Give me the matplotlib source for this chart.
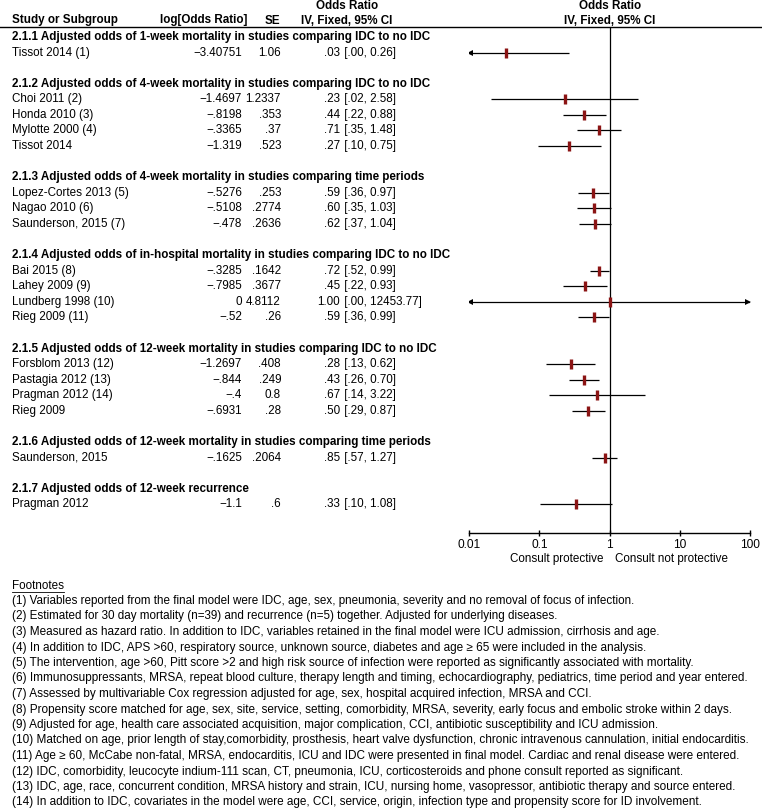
import numpy as np
import matplotlib
matplotlib.use('Agg')
import matplotlib.pyplot as plt
from matplotlib.lines import Line2D

# ============================================================
# DATA
# ============================================================
subgroups = [
    '2.1.1 Adjusted odds of 1-week mortality in studies comparing IDC to no IDC',
    '2.1.2 Adjusted odds of 4-week mortality in studies comparing IDC to no IDC',
    '2.1.3 Adjusted odds of 4-week mortality in studies comparing time periods',
    '2.1.4 Adjusted odds of in-hospital mortality in studies comparing IDC to no IDC',
    '2.1.5 Adjusted odds of 12-week mortality in studies comparing IDC to no IDC',
    '2.1.6 Adjusted odds of 12-week mortality in studies comparing time periods',
    '2.1.7 Adjusted odds of 12-week recurrence',
]
group_sizes = [1, 4, 3, 4, 4, 1, 1]

studies = ['Tissot 2014 (1)',
           'Choi 2011 (2)', 'Honda 2010 (3)', 'Mylotte 2000 (4)', 'Tissot 2014',
           'Lopez-Cortes 2013 (5)', 'Nagao 2010 (6)', 'Saunderson, 2015 (7)',
           'Bai 2015 (8)', 'Lahey 2009 (9)', 'Lundberg 1998 (10)', 'Rieg 2009 (11)',
           'Forsblom 2013 (12)', 'Pastagia 2012 (13)', 'Pragman 2012 (14)', 'Rieg 2009',
           'Saunderson, 2015',
           'Pragman 2012']
log_or_txt = ['\u22123.40751',
              '\u22121.4697', '\u2212.8198', '\u2212.3365', '\u22121.319',
              '\u2212.5276', '\u2212.5108', '\u2212.478',
              '\u2212.3285', '\u2212.7985', '0', '\u2212.52',
              '\u22121.2697', '\u2212.844', '\u2212.4', '\u2212.6931',
              '\u2212.1625',
              '\u22121.1']
se_txt = ['1.06',
          '1.2337', '.353', '.37', '.523',
          '.253', '.2774', '.2636',
          '.1642', '.3677', '4.8112', '.26',
          '.408', '.249', '0.8', '.28',
          '.2064',
          '.6']
or_txt = ['.03',
          '.23', '.44', '.71', '.27',
          '.59', '.60', '.62',
          '.72', '.45', '1.00', '.59',
          '.28', '.43', '.67', '.50',
          '.85',
          '.33']
ci_txt = ['[.00, 0.26]',
          '[.02, 2.58]', '[.22, 0.88]', '[.35, 1.48]', '[.10, 0.75]',
          '[.36, 0.97]', '[.35, 1.03]', '[.37, 1.04]',
          '[.52, 0.99]', '[.22, 0.93]', '[.00, 12453.77]', '[.36, 0.99]',
          '[.13, 0.62]', '[.26, 0.70]', '[.14, 3.22]', '[.29, 0.87]',
          '[.57, 1.27]',
          '[.10, 1.08]']

xticks = [0.01, 0.1, 1, 10, 100]
xtick_labels = ['0.01', '0.1', '1', '10', '100']

footnotes = [
    '(1) Variables reported from the final model were IDC, age, sex, pneumonia, severity and no removal of focus of infection.',
    '(2) Estimated for 30 day mortality (n=39) and recurrence (n=5) together. Adjusted for underlying diseases.',
    '(3) Measured as hazard ratio. In addition to IDC, variables retained in the final model were ICU admission, cirrhosis and age.',
    '(4) In addition to IDC, APS >60, respiratory source, unknown source, diabetes and age \u2265 65 were included in the analysis.',
    '(5) The intervention, age >60, Pitt score >2 and high risk source of infection were reported as significantly associated with mortality.',
    '(6) Immunosuppressants, MRSA, repeat blood culture, therapy length and timing, echocardiography, pediatrics, time period and year entered.',
    '(7) Assessed by multivariable Cox regression adjusted for age, sex, hospital acquired infection, MRSA and CCI.',
    '(8) Propensity score matched for age, sex, site, service, setting, comorbidity, MRSA, severity, early focus and embolic stroke within 2 days.',
    '(9) Adjusted for age, health care associated acquisition, major complication, CCI, antibiotic susceptibility and ICU admission.',
    '(10) Matched on age, prior length of stay,comorbidity, prosthesis, heart valve dysfunction, chronic intravenous cannulation, initial endocarditis.',
    '(11) Age \u2265 60, McCabe non-fatal, MRSA, endocarditis, ICU and IDC were presented in final model. Cardiac and renal disease were entered.',
    '(12) IDC, comorbidity, leucocyte indium-111 scan, CT, pneumonia, ICU, corticosteroids and phone consult reported as significant.',
    '(13) IDC, age, race, concurrent condition, MRSA history and strain, ICU, nursing home, vasopressor, antibiotic therapy and source entered.',
    '(14) In addition to IDC, covariates in the model were age, CCI, service, origin, infection type and propensity score for ID involvement.',
]

# ============================================================
# LAYOUT (pixels)
# ============================================================
W, H = 762, 811
ROW0, ROWH = 37.0, 15.58
LINE_Y, AXIS_Y = 27.0, 533.0
FS = 8.35
NOTE_FS = 8.45
RED = '#8b1414'

plt.rcParams.update({'font.family': ['Liberation Sans', 'DejaVu Sans'],
                     'font.size': FS})

fig = plt.figure(figsize=(W / 100, H / 100), dpi=100)


def fx(px):
    return px / W


def fy(py):
    return 1 - py / H


ax = fig.add_axes([fx(469), fy(AXIS_Y), fx(750) - fx(469), (AXIS_Y - LINE_Y) / H])
ax.set_xscale('log')
ax.set_xlim(0.01, 100)
ax.set_ylim((AXIS_Y - ROW0) / ROWH, (LINE_Y - ROW0) / ROWH)

# row indices
header_rows, study_rows = [], []
r = 0
for n in group_sizes:
    header_rows.append(r)
    study_rows.extend(range(r + 1, r + 1 + n))
    r += n + 2

log_or = np.array([float(s.replace('\u2212', '-')) for s in log_or_txt])
se = np.array([float(s) for s in se_txt])
est = np.exp(log_or)
lo = np.exp(log_or - 1.96 * se)
hi = np.exp(log_or + 1.96 * se)

for i, row in enumerate(study_rows):
    l, h = max(lo[i], 0.01), min(hi[i], 100)
    ax.plot([l, h], [row, row], color='black', lw=0.9, zorder=2, solid_capstyle='butt')
    if lo[i] < 0.01:
        ax.plot(0.0105, row, marker='<', ms=4.5, color='black', mew=0, zorder=3)
    if hi[i] > 100:
        ax.plot(95, row, marker='>', ms=4.5, color='black', mew=0, zorder=3)
    ax.plot(est[i], row, marker='|', ms=7.5, mew=2.4, color=RED, zorder=4)

ax.axvline(1, color='black', lw=0.9, zorder=1)
for s in ['top', 'left', 'right']:
    ax.spines[s].set_visible(False)
ax.spines['bottom'].set_linewidth(1.0)
ax.set_yticks([])
ax.set_xticks(xticks)
ax.set_xticklabels(xtick_labels)
ax.minorticks_off()
ax.tick_params(axis='x', direction='inout', length=5, width=1.0, pad=1.5, labelsize=FS + 0.2)
ax.patch.set_visible(False)

# table text
for i, row in enumerate(study_rows):
    y = fy(ROW0 + row * ROWH)
    fig.text(fx(12), y, studies[i], ha='left', va='center')
    fig.text(fx(242), y, log_or_txt[i], ha='right', va='center')
    fig.text(fx(281), y, se_txt[i], ha='right', va='center')
    fig.text(fx(340), y, or_txt[i], ha='right', va='center')
    fig.text(fx(341), y, ' ' + ci_txt[i], ha='left', va='center')
for k, row in enumerate(header_rows):
    fig.text(fx(12), fy(ROW0 + row * ROWH), subgroups[k], ha='left', va='center', weight='bold')

# column headers
fig.text(fx(12), fy(20.5), 'Study or Subgroup', ha='left', va='center', weight='bold')
fig.text(fx(247), fy(20.5), 'log[Odds Ratio]', ha='right', va='center', weight='bold')
fig.text(fx(280), fy(20.5), 'SE', ha='right', va='center', weight='bold')
for cx in (347, 610):
    fig.text(fx(cx), fy(6), 'Odds Ratio', ha='center', va='center', weight='bold')
    fig.text(fx(cx), fy(20.5), 'IV, Fixed, 95% CI', ha='center', va='center', weight='bold')
fig.add_artist(Line2D([0, 1], [fy(LINE_Y), fy(LINE_Y)], color='black', lw=1.0))

# direction labels
fig.text(fx(603), fy(559), 'Consult protective', ha='right', va='center')
fig.text(fx(615), fy(559), 'Consult not protective', ha='left', va='center')

# footnotes
fig.text(fx(12), fy(586), 'Footnotes', ha='left', va='center')
fig.add_artist(Line2D([fx(12), fx(64)], [fy(591.5), fy(591.5)], color='black', lw=0.6))
for j, note in enumerate(footnotes):
    y = fy(601 + j * 15.5)
    fig.text(fx(12), y, note, ha='left', va='center', fontsize=FS if j < 2 else NOTE_FS)

fig.savefig('out.png', dpi=100)
plt.close(fig)
